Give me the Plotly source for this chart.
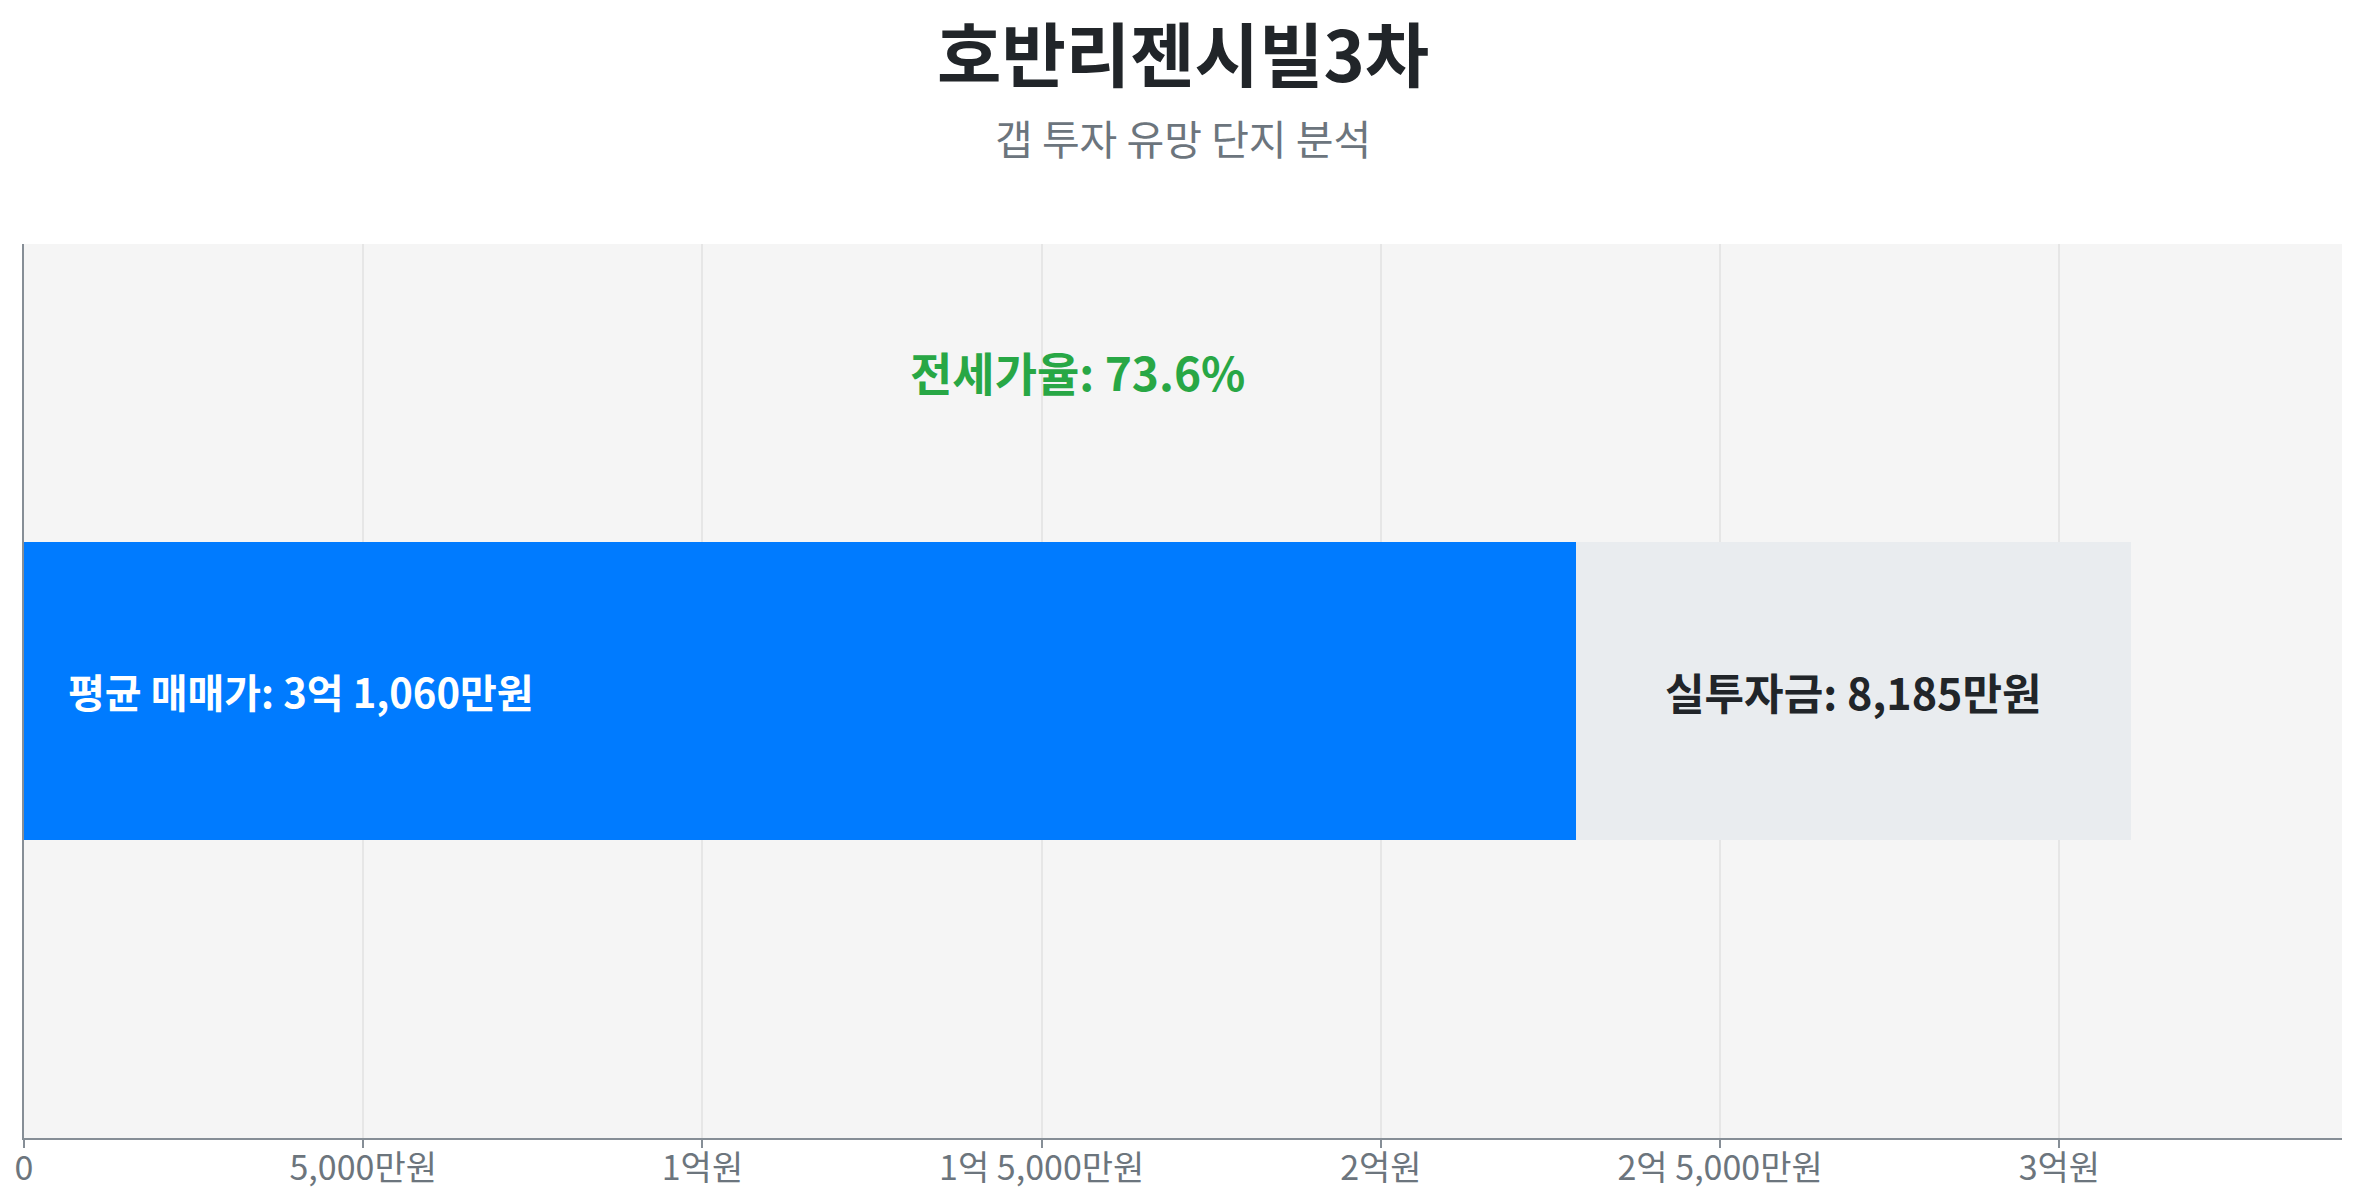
import plotly.graph_objects as go

# ---- data (단위: 만원) ----
complex_name = ["호반리젠시빌3차"]
avg_price = [31060]          # 평균 매매가
invest_amount = [8185]       # 실투자금
jeonse_amount = [avg_price[0] - invest_amount[0]]  # 전세가
jeonse_ratio = 73.6
tick_vals = [0, 5000, 10000, 15000, 20000, 25000, 30000]
tick_text = ["0", "5,000만원", "1억원", "1억 5,000만원", "2억원", "2억 5,000만원", "3억원"]

FONT = "Noto Sans CJK KR"

fig = go.Figure()
fig.add_trace(go.Bar(
    y=complex_name, x=jeonse_amount, orientation="h",
    marker=dict(color="#007bff", line=dict(width=0)),
    width=1, hoverinfo="skip", showlegend=False,
))
fig.add_trace(go.Bar(
    y=complex_name, x=invest_amount, orientation="h",
    marker=dict(color="#e9ecef", line=dict(width=0)),
    width=1, hoverinfo="skip", showlegend=False,
))

fig.add_annotation(
    x=0, y=complex_name[0], xref="x", yref="y",
    text="<b>평균 매매가: 3억 1,060만원</b>", showarrow=False,
    xanchor="left", xshift=42, yanchor="middle",
    font=dict(family=FONT, size=40, color="#ffffff"),
)
fig.add_annotation(
    x=jeonse_amount[0] + invest_amount[0] / 2, y=complex_name[0], xref="x", yref="y",
    text="<b>실투자금: 8,185만원</b>", showarrow=False,
    xanchor="center", yanchor="middle",
    font=dict(family=FONT, size=43, color="#212529"),
)
fig.add_annotation(
    x=avg_price[0] / 2, y=0.858, xref="x", yref="paper",
    text=f"<b>전세가율: {jeonse_ratio}%</b>", showarrow=False,
    xanchor="center", yanchor="middle",
    font=dict(family=FONT, size=46, color="#28a745"),
)
fig.add_annotation(
    x=0.5, y=1.215, xref="paper", yref="paper",
    text="<b>호반리젠시빌3차</b>", showarrow=False,
    xanchor="center", yanchor="middle",
    font=dict(family=FONT, size=70, color="#212529"),
)
fig.add_annotation(
    x=0.5, y=1.1197, xref="paper", yref="paper",
    text="갭 투자 유망 단지 분석", showarrow=False,
    xanchor="center", yanchor="middle",
    font=dict(family=FONT, size=41, color="#6c757d"),
)

fig.update_layout(
    barmode="stack",
    width=2357, height=1200,
    margin=dict(l=24, r=15, t=244, b=62, autoexpand=False),
    paper_bgcolor="#ffffff",
    plot_bgcolor="#f5f5f5",
    font=dict(family=FONT),
    showlegend=False,
)
fig.update_xaxes(
    range=[0, avg_price[0] * 1.1],
    tickvals=tick_vals, ticktext=tick_text,
    tickfont=dict(family=FONT, size=34, color="#6c757d"),
    showgrid=True, gridcolor="#e6e6e6", gridwidth=1.5,
    showline=True, linecolor="#868e96", linewidth=2,
    ticks="outside", ticklen=8, tickcolor="#868e96", tickwidth=1.5,
    ticklabelstandoff=-9,
    zeroline=False, automargin=False,
)
fig.update_yaxes(
    range=[-1.5, 1.5],
    showticklabels=False, showgrid=False, zeroline=False,
    showline=True, linecolor="#868e96", linewidth=2, ticks="",
    automargin=False,
)

fig.write_html(
    "out.html",
    config={"displayModeBar": False},
    post_script="document.body.style.margin='0';document.body.style.overflow='hidden';",
)
